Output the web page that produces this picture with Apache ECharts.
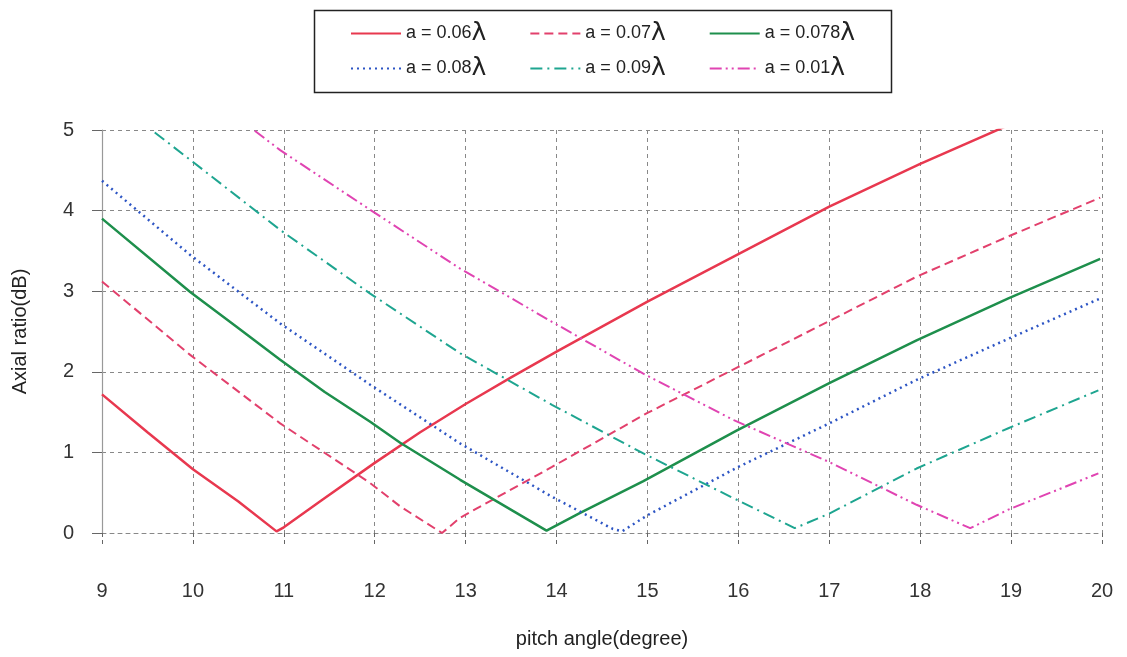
<!DOCTYPE html>
<html>
<head>
<meta charset="utf-8">
<script src="https://cdn.jsdelivr.net/npm/echarts@6/dist/echarts.min.js"></script>
<style>html,body{margin:0;padding:0;background:#fff;}#c{width:1127px;height:657px;}</style>
</head>
<body>
<div id="c"></div>
<script>
const seriesNames = ['a = 0.06λ', 'a = 0.07λ', 'a = 0.078λ', 'a = 0.08λ', 'a = 0.09λ', 'a = 0.01λ'];
const xTicks = [9, 10, 11, 12, 13, 14, 15, 16, 17, 18, 19, 20];
const yTicks = [0, 1, 2, 3, 4, 5];

const a006 = [[9,1.72],[9.5,1.25],[10,0.79],[10.5,0.39],[10.92,0.02],[11,0.07],[11.42,0.41],[12,0.87],[12.5,1.25],[13,1.6],[13.5,1.93],[14,2.25],[15,2.87],[16,3.46],[17,4.05],[18,4.58],[18.95,5.05]];
const a007 = [[9,3.12],[9.97,2.21],[10.96,1.36],[11.95,0.62],[12.28,0.33],[12.74,0.0],[12.94,0.19],[13.95,0.82],[15.0,1.49],[16.0,2.06],[17.0,2.63],[17.96,3.18],[18.97,3.68],[19.98,4.16]];
const a0078 = [[9,3.9],[9.97,2.99],[10.48,2.56],[10.96,2.15],[11.45,1.75],[11.95,1.38],[12.28,1.12],[12.94,0.66],[13.89,0.03],[14.26,0.25],[14.95,0.64],[15.98,1.27],[17.0,1.86],[17.96,2.39],[18.97,2.91],[19.98,3.40]];
const a008 = [[9,4.37],[9.97,3.45],[10.96,2.6],[11.95,1.84],[12.94,1.11],[13.95,0.45],[14.62,0.05],[14.72,0.02],[15.0,0.22],[16.0,0.82],[17.0,1.36],[17.96,1.90],[18.97,2.41],[19.98,2.91]];
const a009 = [[9.58,4.97],[9.97,4.63],[10.96,3.76],[11.95,2.97],[12.94,2.23],[13.95,1.59],[14.95,0.99],[15.95,0.43],[16.62,0.06],[17.0,0.24],[17.96,0.80],[18.97,1.30],[19.96,1.77]];
const a001 = [[10.68,4.99],[10.96,4.75],[11.95,4.01],[12.94,3.28],[13.95,2.62],[14.95,1.98],[15.95,1.40],[17.0,0.88],[17.96,0.35],[18.55,0.06],[18.97,0.29],[19.96,0.74]];

const seriesData = [a006, a007, a0078, a008, a009, a001];
const colors = ['#e8384f', '#e2406c', '#1e8f4c', '#2d55c4', '#1ea590', '#e044b2'];
const dashes = ['solid', [9, 5], 'solid', [2, 4], [12, 5, 2, 5], [12, 4, 2, 4, 2, 4]];
const widths = [2.5, 2, 2.5, 2.5, 2, 2];

const chart = echarts.init(document.getElementById('c'), null, {renderer: 'canvas'});
const font = 'Liberation Sans, Arial, sans-serif';

function makeLegend(names, top) {
  return {
    left: 350, top: top, padding: 0,
    orient: 'horizontal',
    itemWidth: 50, itemHeight: 14, itemGap: 43,
    data: names,
    itemStyle: { color: 'rgba(0,0,0,0)', borderColor: 'rgba(0,0,0,0)', borderWidth: 0, opacity: 0 },
    formatter: n => n.replace('λ', '{l|λ}'),
    textStyle: {
      fontFamily: font, fontSize: 18, color: '#222',
      rich: { l: { fontSize: 25, fontFamily: 'DejaVu Sans, sans-serif', color: '#222' } }
    }
  };
}

chart.setOption({
  backgroundColor: '#ffffff',
  animation: false,
  legend: [makeLegend(seriesNames.slice(0, 3), 21), makeLegend(seriesNames.slice(3), 56)],
  graphic: [{
    type: 'rect', left: 312, top: 8, silent: true,
    shape: { width: 577, height: 82 },
    style: { fill: 'none', stroke: '#222', lineWidth: 1.5 }
  }],
  grid: { left: 102, right: 25, top: 130, bottom: 124, containLabel: false },
  xAxis: {
    type: 'value', min: 9, max: 20, interval: 1,
    name: 'pitch angle(degree)', nameLocation: 'middle', nameGap: 96,
    nameTextStyle: { fontFamily: font, fontSize: 20, color: '#222' },
    axisLine: { show: true, lineStyle: { color: '#888', type: [4, 4], width: 1 } },
    axisTick: { show: true, inside: false, length: 12, lineStyle: { color: '#666', type: [4, 3] } },
    axisLabel: { margin: 48, fontFamily: font, fontSize: 20, color: '#333', formatter: v => xTicks.includes(v) ? String(v) : '' },
    splitLine: { show: true, lineStyle: { color: '#888', type: [4, 4], width: 1 } }
  },
  yAxis: {
    type: 'value', min: 0, max: 5, interval: 1,
    name: 'Axial ratio(dB)', nameLocation: 'middle', nameGap: 72, nameRotate: 90,
    nameTextStyle: { fontFamily: font, fontSize: 20, color: '#222' },
    axisLine: { show: true, lineStyle: { color: '#999', width: 1.2 } },
    axisTick: { show: true, inside: false, length: 10, lineStyle: { color: '#666' } },
    axisLabel: { margin: 28, fontFamily: font, fontSize: 20, color: '#333', formatter: v => yTicks.includes(v) ? String(v) : '' },
    splitLine: { show: true, lineStyle: { color: '#888', type: [4, 4], width: 1 } }
  },
  series: seriesNames.map((n, i) => ({
    name: n, type: 'line', data: seriesData[i],
    symbol: 'none', smooth: false,
    lineStyle: { color: colors[i], type: dashes[i], width: widths[i] },
    itemStyle: { color: colors[i] },
    z: 3
  }))
});
</script>
</body>
</html>
